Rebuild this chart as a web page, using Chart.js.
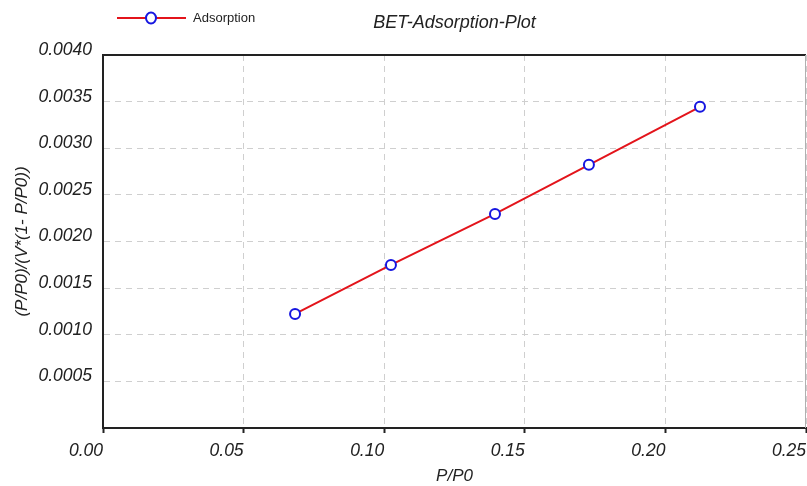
<!DOCTYPE html>
<html>
<head>
<meta charset="utf-8">
<title>BET-Adsorption-Plot</title>
<script src="https://cdn.jsdelivr.net/npm/chart.js@4/dist/chart.umd.min.js"></script>
<style>
  html, body { margin: 0; padding: 0; background: #fff; }
  #wrap { width: 807px; height: 486px; }
</style>
</head>
<body>
<div id="wrap"><canvas id="betChart" width="807" height="486"></canvas></div>
<script>
// BET plot data
const pressureRatio = [0.0683, 0.1024, 0.1394, 0.1728, 0.2123];   // P/P0
const betValues = [0.001223, 0.001749, 0.002296, 0.002822, 0.003444]; // (P/P0)/(V*(1-P/P0))
const seriesName = 'Adsorption';
const chartTitle = 'BET-Adsorption-Plot';
const xLabel = 'P/P0';
const yLabel = '(P/P0)/(V*(1- P/P0))';
const xRange = [0, 0.25, 0.05];
const yRange = [0, 0.004, 0.0005];

const lineColor = '#e3141b';
const markerColor = '#1616e0';
const fontFamily = '"Liberation Sans", Arial, sans-serif';

// title, legend and the top/right frame
const decorations = {
  id: 'decorations',
  afterDraw(chart) {
    const ctx = chart.ctx;
    const area = chart.chartArea;
    ctx.save();

    // frame
    ctx.strokeStyle = '#222';
    ctx.lineWidth = 2;
    ctx.beginPath();
    ctx.moveTo(area.left, area.top);
    ctx.lineTo(area.right, area.top);
    ctx.stroke();
    ctx.strokeStyle = '#b0b0b0';
    ctx.lineWidth = 1;
    ctx.beginPath();
    ctx.moveTo(area.right - 0.5, area.top);
    ctx.lineTo(area.right - 0.5, area.bottom);
    ctx.stroke();

    // title
    ctx.fillStyle = '#222';
    ctx.font = 'italic 18px ' + fontFamily;
    ctx.textAlign = 'center';
    ctx.textBaseline = 'middle';
    ctx.fillText(chartTitle, (area.left + area.right) / 2, 23);

    // legend
    ctx.strokeStyle = lineColor;
    ctx.lineWidth = 2;
    ctx.beginPath();
    ctx.moveTo(117, 18);
    ctx.lineTo(186, 18);
    ctx.stroke();
    ctx.fillStyle = '#fff';
    ctx.strokeStyle = markerColor;
    ctx.beginPath();
    ctx.ellipse(151, 18, 5, 5.5, 0, 0, Math.PI * 2);
    ctx.fill();
    ctx.stroke();
    ctx.fillStyle = '#222';
    ctx.font = '13px ' + fontFamily;
    ctx.textAlign = 'left';
    ctx.fillText(seriesName, 193, 18);

    ctx.restore();
  }
};

new Chart(document.getElementById('betChart'), {
  type: 'scatter',
  data: {
    datasets: [{
      label: seriesName,
      data: pressureRatio.map((x, i) => ({ x: x, y: betValues[i] })),
      showLine: true,
      borderColor: lineColor,
      borderWidth: 2,
      pointRadius: 5,
      pointBorderWidth: 2,
      pointBorderColor: markerColor,
      pointBackgroundColor: '#fff',
      pointStyle: 'circle'
    }]
  },
  options: {
    responsive: false,
    animation: false,
    layout: { autoPadding: false, padding: { top: 55, right: 1, left: 0, bottom: 0 } },
    plugins: {
      legend: { display: false },
      title: { display: false },
      tooltip: { enabled: false }
    },
    scales: {
      x: {
        type: 'linear',
        min: xRange[0],
        max: xRange[1],
        afterFit: s => { s.height = 58; s.paddingLeft = 0; s.paddingRight = 0; },
        ticks: {
          stepSize: xRange[2],
          align: 'end',
          padding: 8,
          color: '#222',
          font: { family: fontFamily, size: 17.5, style: 'italic' },
          callback: v => v.toFixed(2)
        },
        grid: {
          color: '#cfcfcf',
          lineWidth: 1,
          drawTicks: true,
          tickLength: 5,
          tickColor: '#222',
          tickWidth: 2
        },
        border: { display: true, color: '#222', width: 2, dash: [6, 5] },
        title: {
          display: true,
          text: xLabel,
          color: '#222',
          font: { family: fontFamily, size: 17, style: 'italic' },
          padding: { top: 0, bottom: 0 }
        }
      },
      y: {
        type: 'linear',
        min: yRange[0],
        max: yRange[1],
        afterFit: s => { s.width = 103; s.paddingTop = 0; s.paddingBottom = 0; },
        ticks: {
          stepSize: yRange[2],
          padding: 11,
          labelOffset: -5,
          color: '#222',
          font: { family: fontFamily, size: 17.5, style: 'italic' },
          callback: v => (v === 0 ? '' : v.toFixed(4))
        },
        grid: {
          color: '#cfcfcf',
          lineWidth: 1,
          drawTicks: false
        },
        border: { display: true, color: '#222', width: 2, dash: [6, 5] },
        title: {
          display: true,
          text: yLabel,
          color: '#222',
          font: { family: fontFamily, size: 17, style: 'italic' },
          padding: { top: 12, bottom: 0 }
        }
      }
    }
  },
  plugins: [decorations]
});
</script>
</body>
</html>
